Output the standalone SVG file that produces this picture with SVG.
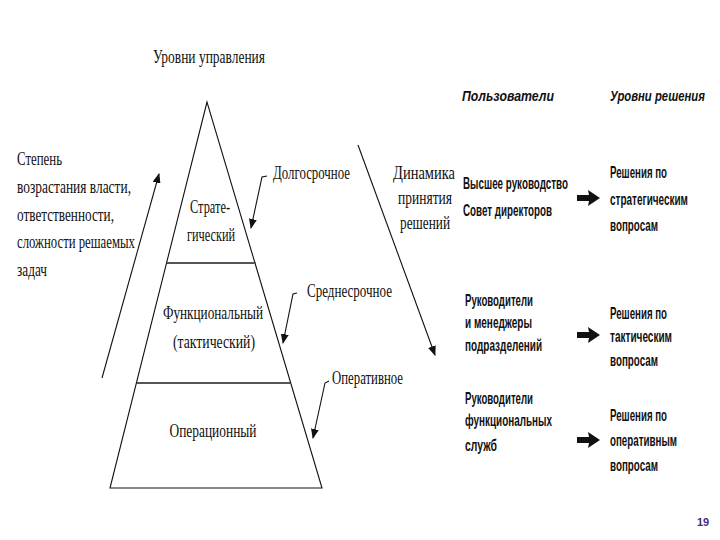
<svg xmlns="http://www.w3.org/2000/svg" xmlns:xlink="http://www.w3.org/1999/xlink" width="720" height="540" viewBox="0 0 720 540">
<style>
.s{font-family:"Liberation Serif","DejaVu Serif",serif;font-size:18px;fill:#111}
.r{font-family:"Liberation Sans","DejaVu Sans",sans-serif;font-size:16px;font-weight:bold;fill:#111}
.h{font-style:italic;font-size:15.5px}
.ln{stroke:#111;stroke-width:1.1;fill:none}
.dv{stroke:#555;stroke-width:2.2;fill:none}
.c{text-anchor:middle}
</style>
<defs>
<marker id="ah" markerWidth="10" markerHeight="8" refX="9" refY="4" orient="auto" markerUnits="userSpaceOnUse">
<path d="M0,0 L10,4 L0,8 Z" fill="#111"/>
</marker>
<path id="big" d="M577,-3 L589,-3 L588,-8 L600,0 L588,8 L589,3 L577,3 Z" fill="#111"/>
</defs>
<rect width="720" height="540" fill="#fff"/>

<g id="title">
<text class="s c" x="209" y="63" textLength="112" lengthAdjust="spacingAndGlyphs">Уровни управления</text>
</g>

<g id="pyramid">
<path class="ln" d="M207,102 L110,488 L322,488 Z"/>
<line class="dv" x1="167" y1="263" x2="256" y2="263"/>
<line class="dv" x1="137" y1="383" x2="290" y2="383"/>
</g>

<g id="level-strategic">
<text class="s c" x="210" y="213" textLength="40" lengthAdjust="spacingAndGlyphs">Страте-</text>
<text class="s c" x="211" y="241" textLength="48" lengthAdjust="spacingAndGlyphs">гический</text>
</g>
<g id="level-functional">
<text class="s c" x="213" y="319" textLength="100" lengthAdjust="spacingAndGlyphs">Функциональный</text>
<text class="s c" x="214" y="348" textLength="82" lengthAdjust="spacingAndGlyphs">(тактический)</text>
</g>
<g id="level-operational">
<text class="s c" x="213" y="437" textLength="87" lengthAdjust="spacingAndGlyphs">Операционный</text>
</g>

<g id="left-label">
<text class="s" x="17" y="165" textLength="45" lengthAdjust="spacingAndGlyphs">Степень</text>
<text class="s" x="17" y="193" textLength="114" lengthAdjust="spacingAndGlyphs">возрастания власти,</text>
<text class="s" x="17" y="221" textLength="97" lengthAdjust="spacingAndGlyphs">ответственности,</text>
<text class="s" x="17" y="248" textLength="118" lengthAdjust="spacingAndGlyphs">сложности решаемых</text>
<text class="s" x="17" y="276" textLength="30" lengthAdjust="spacingAndGlyphs">задач</text>
</g>

<g id="term-long">
<text class="s" x="273" y="179" textLength="77" lengthAdjust="spacingAndGlyphs">Долгосрочное</text>
</g>
<g id="term-mid">
<text class="s" x="307" y="297" textLength="85" lengthAdjust="spacingAndGlyphs">Среднесрочное</text>
</g>
<g id="term-oper">
<text class="s" x="332" y="384" textLength="71" lengthAdjust="spacingAndGlyphs">Оперативное</text>
</g>

<g id="dynamics-label">
<text class="s c" x="424" y="179" textLength="62" lengthAdjust="spacingAndGlyphs">Динамика</text>
<text class="s c" x="425" y="204" textLength="54" lengthAdjust="spacingAndGlyphs">принятия</text>
<text class="s c" x="425" y="229" textLength="50" lengthAdjust="spacingAndGlyphs">решений</text>
</g>

<g id="connectors">
<line class="ln" x1="102" y1="378" x2="159" y2="174" marker-end="url(#ah)"/>
<line class="ln" x1="358" y1="145" x2="435" y2="355" marker-end="url(#ah)"/>
<path class="ln" d="M267,176 L262,177 L251,228" marker-end="url(#ah)"/>
<path class="ln" d="M297,293 L293,294 L283,343" marker-end="url(#ah)"/>
<path class="ln" d="M329,381 L325,383 L313,438" marker-end="url(#ah)"/>
<use xlink:href="#big" href="#big" y="198"/>
<use xlink:href="#big" href="#big" y="335"/>
<use xlink:href="#big" href="#big" y="440"/>
</g>

<g id="header-users">
<text class="r h" transform="translate(462,101) scale(0.65,1)" textLength="141.5" lengthAdjust="spacingAndGlyphs">Пользователи</text>
</g>
<g id="header-levels">
<text class="r h" transform="translate(610,101) scale(0.65,1)" textLength="146" lengthAdjust="spacingAndGlyphs">Уровни решения</text>
</g>

<g id="users-top">
<text class="r" transform="translate(463,189) scale(0.65,1)" textLength="161.5" lengthAdjust="spacingAndGlyphs">Высшее руководство</text>
<text class="r" transform="translate(463,216) scale(0.65,1)" textLength="137" lengthAdjust="spacingAndGlyphs">Совет директоров</text>
</g>
<g id="decision-strategic">
<text class="r" transform="translate(610,178) scale(0.65,1)" textLength="87.7" lengthAdjust="spacingAndGlyphs">Решения по</text>
<text class="r" transform="translate(610,205) scale(0.65,1)" textLength="120" lengthAdjust="spacingAndGlyphs">стратегическим</text>
<text class="r" transform="translate(610,231) scale(0.65,1)" textLength="73.8" lengthAdjust="spacingAndGlyphs">вопросам</text>
</g>

<g id="users-mid">
<text class="r" transform="translate(465,306) scale(0.65,1)" textLength="104.6" lengthAdjust="spacingAndGlyphs">Руководители</text>
<text class="r" transform="translate(465,328) scale(0.65,1)" textLength="103" lengthAdjust="spacingAndGlyphs">и менеджеры</text>
<text class="r" transform="translate(465,351) scale(0.65,1)" textLength="118.5" lengthAdjust="spacingAndGlyphs">подразделений</text>
</g>
<g id="decision-tactical">
<text class="r" transform="translate(610,319) scale(0.65,1)" textLength="87.7" lengthAdjust="spacingAndGlyphs">Решения по</text>
<text class="r" transform="translate(610,342) scale(0.65,1)" textLength="95.4" lengthAdjust="spacingAndGlyphs">тактическим</text>
<text class="r" transform="translate(610,366) scale(0.65,1)" textLength="73.8" lengthAdjust="spacingAndGlyphs">вопросам</text>
</g>

<g id="users-low">
<text class="r" transform="translate(465,404) scale(0.65,1)" textLength="104.6" lengthAdjust="spacingAndGlyphs">Руководители</text>
<text class="r" transform="translate(465,426) scale(0.65,1)" textLength="133.8" lengthAdjust="spacingAndGlyphs">функциональных</text>
<text class="r" transform="translate(465,451) scale(0.65,1)" textLength="49.2" lengthAdjust="spacingAndGlyphs">служб</text>
</g>
<g id="decision-operational">
<text class="r" transform="translate(610,421) scale(0.65,1)" textLength="87.7" lengthAdjust="spacingAndGlyphs">Решения по</text>
<text class="r" transform="translate(610,446) scale(0.65,1)" textLength="103" lengthAdjust="spacingAndGlyphs">оперативным</text>
<text class="r" transform="translate(610,471) scale(0.65,1)" textLength="73.8" lengthAdjust="spacingAndGlyphs">вопросам</text>
</g>

<g id="page-number">
<text x="703" y="526" text-anchor="middle" style="font-family:'Liberation Sans','DejaVu Sans',sans-serif;font-size:11px;font-weight:bold;fill:#4b2a7a">19</text>
</g>
</svg>
